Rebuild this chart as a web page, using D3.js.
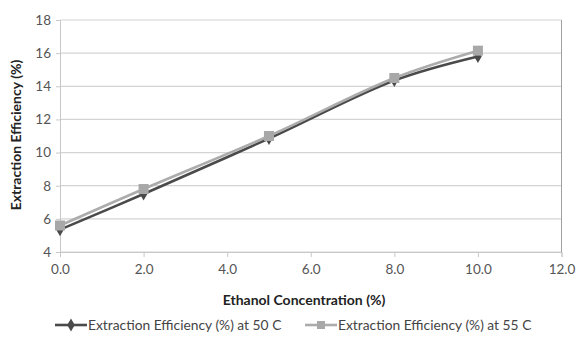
<!DOCTYPE html>
<html><head><meta charset="utf-8">
<script src="https://cdn.jsdelivr.net/npm/d3@7"></script>
<style>body{margin:0;background:#fff}svg{display:block}text{font-family:Lato,"Open Sans",sans-serif}</style>
</head><body>
<script>
const xValues = [0, 2, 5, 8, 10];
const series50 = [5.35, 7.5, 10.85, 14.35, 15.8];
const series55 = [5.6, 7.8, 11.0, 14.5, 16.15];
const seriesNames = ["Extraction Efficiency (%) at 50 C", "Extraction Efficiency (%) at 55 C"];
const xTicks = [0, 2, 4, 6, 8, 10, 12];
const yTicks = [4, 6, 8, 10, 12, 14, 16, 18];

const W = 576, H = 354;
const svg = d3.select("body").append("svg").attr("width", W).attr("height", H);
const x = d3.scaleLinear().domain([0, 12]).range([60, 561.5]);
const y = d3.scaleLinear().domain([4, 18]).range([252, 20]);

// gridlines
svg.append("g").selectAll("line").data(yTicks).join("line")
  .attr("x1", x(0)).attr("x2", x(12))
  .attr("y1", d => y(d)).attr("y2", d => y(d))
  .attr("stroke", "#d4d4d4").attr("stroke-width", 1.2);
// right border
svg.append("line").attr("x1", x(12)).attr("x2", x(12)).attr("y1", y(18)).attr("y2", y(4))
  .attr("stroke", "#a0a0a0").attr("stroke-width", 1);

// y axis
const ya = svg.append("g").attr("transform", `translate(${x(0)},0)`)
  .call(d3.axisLeft(y).tickValues(yTicks).tickSize(4).tickFormat(d3.format("d")));
ya.select(".domain").attr("stroke", "#c8c8c8");
ya.selectAll(".tick line").attr("stroke", "#c8c8c8");
ya.selectAll("text").attr("font-size", 13.5).attr("fill", "#555").attr("x", -9);

// x axis
const xa = svg.append("g").attr("transform", `translate(0,${y(4)})`)
  .call(d3.axisBottom(x).tickValues(xTicks).tickSize(5).tickFormat(d3.format(".1f")));
xa.select(".domain").attr("stroke", "#c8c8c8");
xa.selectAll(".tick line").attr("stroke", "#c8c8c8");
xa.selectAll("text").attr("font-size", 13.5).attr("fill", "#555").attr("y", 12);

// axis titles
svg.append("text").attr("x", 304).attr("y", 305).attr("text-anchor", "middle")
  .attr("font-size", 14).attr("font-weight", "bold").attr("fill", "#222")
  .text("Ethanol Concentration (%)");
svg.append("text").attr("transform", `translate(21,135) rotate(-90)`).attr("text-anchor", "middle")
  .attr("font-size", 14).attr("font-weight", "bold").attr("fill", "#222")
  .text("Extraction Efficiency (%)");

const line = d3.line().x(d => x(d[0])).y(d => y(d[1])).curve(d3.curveCatmullRom.alpha(0.5));
const d50 = xValues.map((v, i) => [v, series50[i]]);
const d55 = xValues.map((v, i) => [v, series55[i]]);

const c50 = "#4a4a4a", c55 = "#acacac";
svg.append("path").datum(d50).attr("d", line).attr("fill", "none").attr("stroke", c50).attr("stroke-width", 2.6);
svg.append("path").datum(d55).attr("d", line).attr("fill", "none").attr("stroke", c55).attr("stroke-width", 2.6);

const diamond = d3.symbol().type(d3.symbolDiamond).size(50);
svg.append("g").selectAll("path").data(d50).join("path")
  .attr("d", diamond).attr("transform", d => `translate(${x(d[0])},${y(d[1])})`).attr("fill", c50);
svg.append("g").selectAll("rect").data(d55).join("rect")
  .attr("x", d => x(d[0]) - 5).attr("y", d => y(d[1]) - 5).attr("width", 10).attr("height", 10)
  .attr("fill", "#a8a8a8");

// legend
const leg = [{x0: 55, c: c50, m: "d", t: seriesNames[0]}, {x0: 305, c: c55, m: "s", t: seriesNames[1]}];
const ly = 325;
leg.forEach(l => {
  svg.append("line").attr("x1", l.x0).attr("x2", l.x0 + 32).attr("y1", ly).attr("y2", ly)
    .attr("stroke", l.c).attr("stroke-width", 2.6);
  if (l.m === "d") {
    svg.append("path").attr("d", diamond).attr("transform", `translate(${l.x0 + 16},${ly})`).attr("fill", l.c);
  } else {
    svg.append("rect").attr("x", l.x0 + 12).attr("y", ly - 4).attr("width", 8).attr("height", 8).attr("fill", "#a8a8a8");
  }
  svg.append("text").attr("x", l.x0 + 33).attr("y", ly + 5).attr("font-size", 13.8).attr("fill", "#444").text(l.t);
});
</script>
</body></html>
